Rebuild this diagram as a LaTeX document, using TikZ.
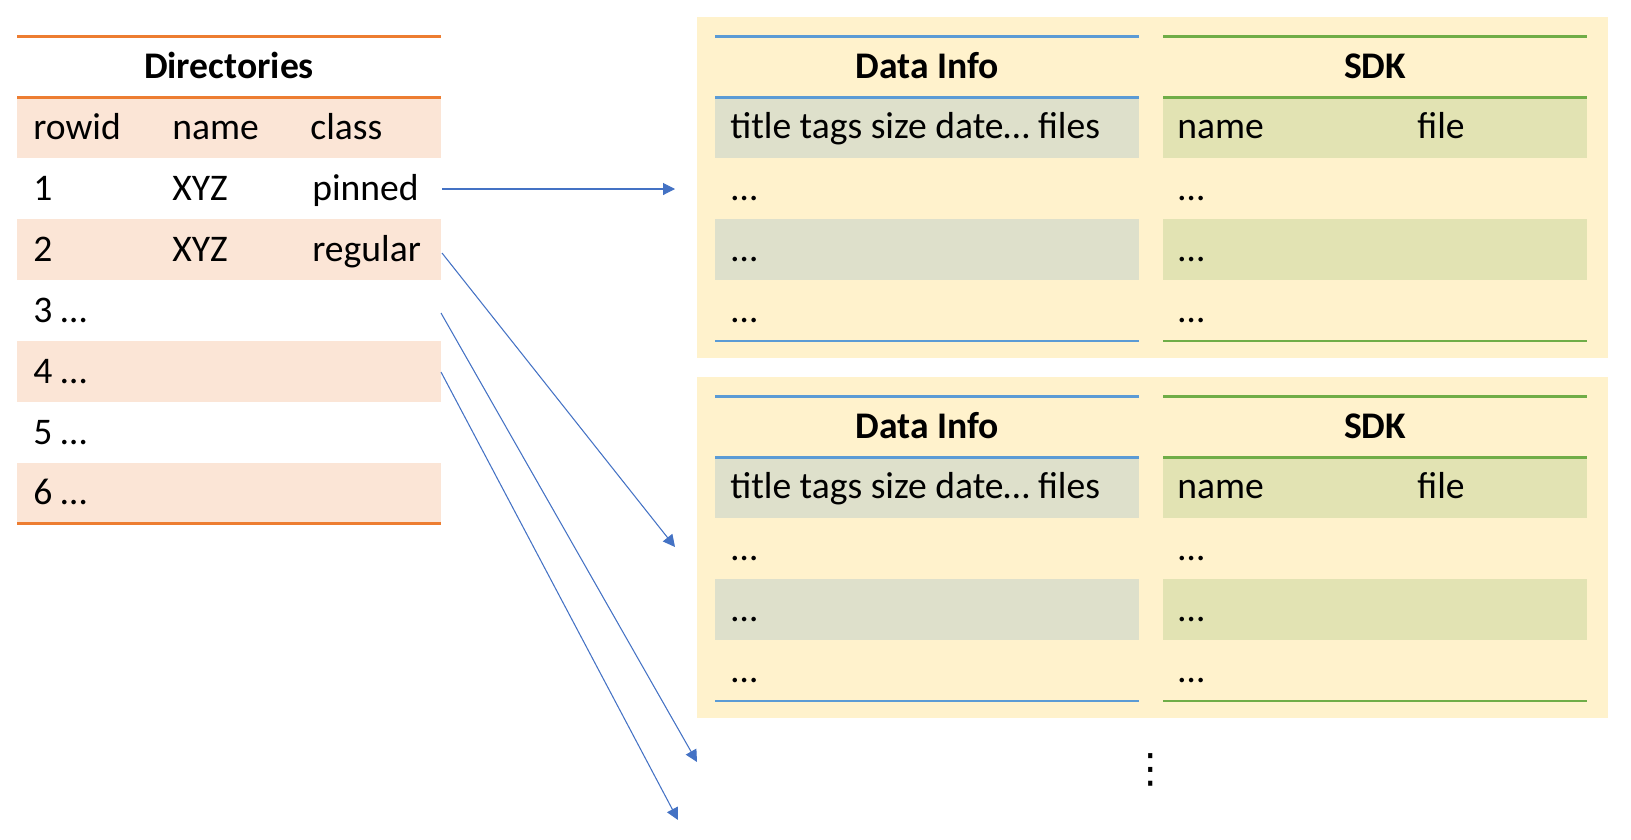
\documentclass[tikz,border=0pt]{standalone}
\usepackage{fontspec}
\setmainfont{Carlito}
\newfontfamily\symfont{DejaVu Sans}
\usetikzlibrary{arrows.meta}

\definecolor{dirline}{HTML}{ED7D31}
\definecolor{dirfill}{HTML}{FBE5D6}
\definecolor{panelfill}{HTML}{FFF2CC}
\definecolor{infoline}{HTML}{5B9BD5}
\definecolor{infofill}{HTML}{DEE0CB}
\definecolor{sdkline}{HTML}{70AD47}
\definecolor{sdkfill}{HTML}{E2E3B3}
\definecolor{arrowblue}{HTML}{4472C4}

\begin{document}
\begin{tikzpicture}[x=0.02cm, y=-0.02cm,
    txt/.style={anchor=base west, inner sep=0pt, font=\fontsize{21.4pt}{25pt}\selectfont},
    head/.style={anchor=base, inner sep=0pt, font=\fontsize{21.4pt}{25pt}\selectfont\bfseries},
    rule/.style={line width=0.045cm},
    link/.style={arrowblue, line width=0.6pt, -{Triangle[length=0.24cm,width=0.24cm]}}]

    % Fix the canvas
    \useasboundingbox (0,0) rectangle (1631,839);

    % Draw the Directories table
    \fill[dirfill] (17,98) rectangle (441,158);
    \fill[dirfill] (17,219) rectangle (441,280);
    \fill[dirfill] (17,341) rectangle (441,402);
    \fill[dirfill] (17,463) rectangle (441,523);
    \draw[rule, dirline] (17,36.5) -- (441,36.5);
    \draw[rule, dirline] (17,97.5) -- (441,97.5);
    \draw[rule, dirline] (17,523.5) -- (441,523.5);

    \node[head] (dirtitle) at (229,78) {Directories};
    \node[txt] (rowid) at (33,139) {rowid};
    \node[txt] (colname) at (172,139) {name};
    \node[txt] (colclass) at (310,139) {class};
    \node[txt] (r1id) at (33,200) {1};
    \node[txt] (r1name) at (172,200) {XYZ};
    \node[txt] (r1class) at (312,200) {pinned};
    \node[txt] (r2id) at (33,261) {2};
    \node[txt] (r2name) at (172,261) {XYZ};
    \node[txt] (r2class) at (312,261) {regular};
    \node[txt] (r3id) at (33,322) {3 …};
    \node[txt] (r4id) at (33,383) {4 …};
    \node[txt] (r5id) at (33,444) {5 …};
    \node[txt] (r6id) at (33,504) {6 …};

    % Draw the first panel
    \fill[panelfill] (697,17) rectangle (1608,358);
    \fill[infofill] (715,98) rectangle (1139,158);
    \fill[infofill] (715,219) rectangle (1139,280);
    \fill[sdkfill] (1163,98) rectangle (1587,158);
    \fill[sdkfill] (1163,219) rectangle (1587,280);
    \draw[rule, infoline] (715,36.5) -- (1139,36.5);
    \draw[rule, infoline] (715,97.5) -- (1139,97.5);
    \draw[rule, infoline] (715,341) -- (1139,341);
    \draw[rule, sdkline] (1163,36.5) -- (1587,36.5);
    \draw[rule, sdkline] (1163,97.5) -- (1587,97.5);
    \draw[rule, sdkline] (1163,341) -- (1587,341);

    \node[head] (infoA) at (927,78) {Data Info};
    \node[txt] (infoAcols) at (730,138) {title tags size date… files};
    \node[txt] (infoAa) at (731,200) {…};
    \node[txt] (infoAb) at (731,261) {…};
    \node[txt] (infoAc) at (731,322) {…};
    \node[head] (sdkA) at (1375,78) {SDK};
    \node[txt] (sdkAname) at (1177,138) {name};
    \node[txt] (sdkAfile) at (1417,138) {file};
    \node[txt] (sdkAa) at (1178,200) {…};
    \node[txt] (sdkAb) at (1178,261) {…};
    \node[txt] (sdkAc) at (1178,322) {…};

    % Draw the second panel
    \fill[panelfill] (697,17+360) rectangle (1608,358+360);
    \fill[infofill] (715,98+360) rectangle (1139,158+360);
    \fill[infofill] (715,219+360) rectangle (1139,280+360);
    \fill[sdkfill] (1163,98+360) rectangle (1587,158+360);
    \fill[sdkfill] (1163,219+360) rectangle (1587,280+360);
    \draw[rule, infoline] (715,36.5+360) -- (1139,36.5+360);
    \draw[rule, infoline] (715,97.5+360) -- (1139,97.5+360);
    \draw[rule, infoline] (715,341+360) -- (1139,341+360);
    \draw[rule, sdkline] (1163,36.5+360) -- (1587,36.5+360);
    \draw[rule, sdkline] (1163,97.5+360) -- (1587,97.5+360);
    \draw[rule, sdkline] (1163,341+360) -- (1587,341+360);

    \node[head] (infoB) at (927,78+360) {Data Info};
    \node[txt] (infoBcols) at (730,138+360) {title tags size date… files};
    \node[txt] (infoBa) at (731,200+360) {…};
    \node[txt] (infoBb) at (731,261+360) {…};
    \node[txt] (infoBc) at (731,322+360) {…};
    \node[head] (sdkB) at (1375,78+360) {SDK};
    \node[txt] (sdkBname) at (1177,138+360) {name};
    \node[txt] (sdkBfile) at (1417,138+360) {file};
    \node[txt] (sdkBa) at (1178,200+360) {…};
    \node[txt] (sdkBb) at (1178,261+360) {…};
    \node[txt] (sdkBc) at (1178,322+360) {…};

    % More panels below
    \node[inner sep=0pt, font=\fontsize{23pt}{23pt}\symfont] (morepanels) at (1151,770) {⋮};

    % Draw the arrows from the rows to the panels
    \coordinate (pinnedout) at (442,189);
    \coordinate (regularout) at (442,253);
    \coordinate (rowthreeout) at (441,313);
    \coordinate (rowfourout) at (441,372);
    \coordinate (panelAin) at (675,189);
    \coordinate (panelBin) at (675,547);
    \coordinate (panelCin) at (697,762);
    \coordinate (panelDin) at (678,820);

    \draw[link] (pinnedout) -- (panelAin);
    \draw[link] (regularout) -- (panelBin);
    \draw[link] (rowthreeout) -- (panelCin);
    \draw[link] (rowfourout) -- (panelDin);

\end{tikzpicture}
\end{document}
